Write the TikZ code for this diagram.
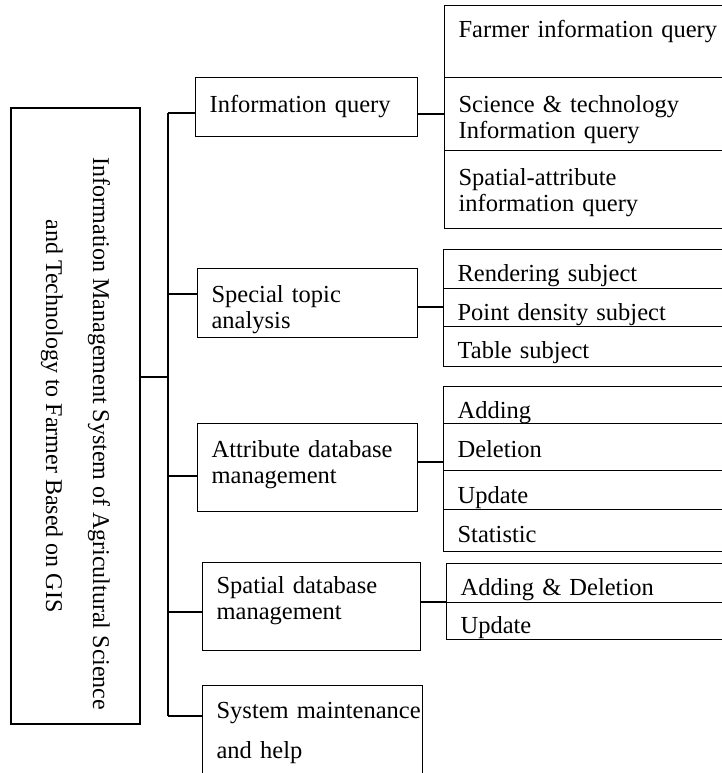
\documentclass[tikz,border=0pt]{standalone}
\usepackage{fontspec}
\setmainfont{Liberation Serif}
\tikzset{
  lvl/.style={draw, anchor=north west, inner xsep=14pt, inner ysep=0pt,
    align=left, font=\fontsize{24.5}{26}\selectfont},
  sub/.style={lvl, text width=300pt},
}
\begin{document}
\begin{tikzpicture}[x=1pt, y=-1pt, line width=1.2pt]
  \clip (0,0) rectangle (722,773);
  \node[draw, rotate=-90, minimum width=616pt, minimum height=129pt, align=center,
    font=\fontsize{24}{26}\selectfont] (sys) at (75.5,416)
    {\hspace*{36pt}Information Management System of Agricultural Science\\[21pt]
     and Technology to Farmer Based on GIS};
  \node[lvl, text width=194pt, text height=35pt, text depth=24pt] (info) at (195,77) {Information query};
  \node[lvl, text width=192pt, text height=34pt, text depth=35pt] (spec) at (197,268) {Special topic\\ analysis};
  \node[lvl, text width=192pt, text height=34pt, text depth=54pt] (attr) at (197,423) {Attribute database\\ management};
  \node[lvl, text width=190pt, text height=31pt, text depth=57pt] (spdb) at (202,562) {Spatial database\\ management};
  \node[lvl, text width=192pt, text height=33pt, text depth=82pt] (sysm) at (202,685) {\mbox{System maintenance}\\[14pt] and help};
  \node[sub, text height=32pt, text depth=40pt] (farm) at (444,5) {Farmer information query};
  \node[sub, text height=35pt, text depth=38pt] (sci) at (444,77) {Science \& technology\\ Information query};
  \node[sub, text height=35pt, text depth=43pt] (spat) at (444,150) {Spatial-attribute\\ information query};
  \node[sub, text height=32pt, text depth=7pt] (rend) at (443,249) {Rendering subject};
  \node[sub, text height=32pt, text depth=6pt] (dens) at (443,288) {Point density subject};
  \node[sub, text height=32pt, text depth=8pt] (tabl) at (443,326) {Table subject};
  \node[sub, text height=32pt, text depth=5pt] (add) at (443,386) {Adding};
  \node[sub, text height=34pt, text depth=13pt] (del) at (443,423) {Deletion};
  \node[sub, text height=33pt, text depth=6pt] (upd) at (443,470) {Update};
  \node[sub, text height=33pt, text depth=9pt] (stat) at (443,509) {Statistic};
  \node[sub, text height=32pt, text depth=7pt] (adel) at (446,563) {Adding \& Deletion};
  \node[sub, text height=31pt, text depth=6pt] (upd2) at (446,602) {Update};
  \coordinate (hub) at (168,377);
  \coordinate (b1) at (168,113);
  \coordinate (b2) at (168,294);
  \coordinate (b3) at (168,476);
  \coordinate (b4) at (168,612);
  \coordinate (b5) at (168,716);
  \coordinate (c1) at (430,114);
  \coordinate (c2) at (430,307);
  \coordinate (c3) at (430,462);
  \coordinate (c4) at (430,602);
  \draw (hub -| sys.north) -- (hub);
  \draw (b1) -- (b5);
  \foreach \b/\n in {b1/info, b2/spec, b3/attr, b4/spdb, b5/sysm}
    \draw (\b) -- (\b -| \n.west);
  \draw (c1 -| info.east) -- (c1 -| farm.west);
  \draw (c2 -| spec.east) -- (c2 -| rend.west);
  \draw (c3 -| attr.east) -- (c3 -| add.west);
  \draw (c4 -| spdb.east) -- (c4 -| adel.west);
\end{tikzpicture}
\end{document}
